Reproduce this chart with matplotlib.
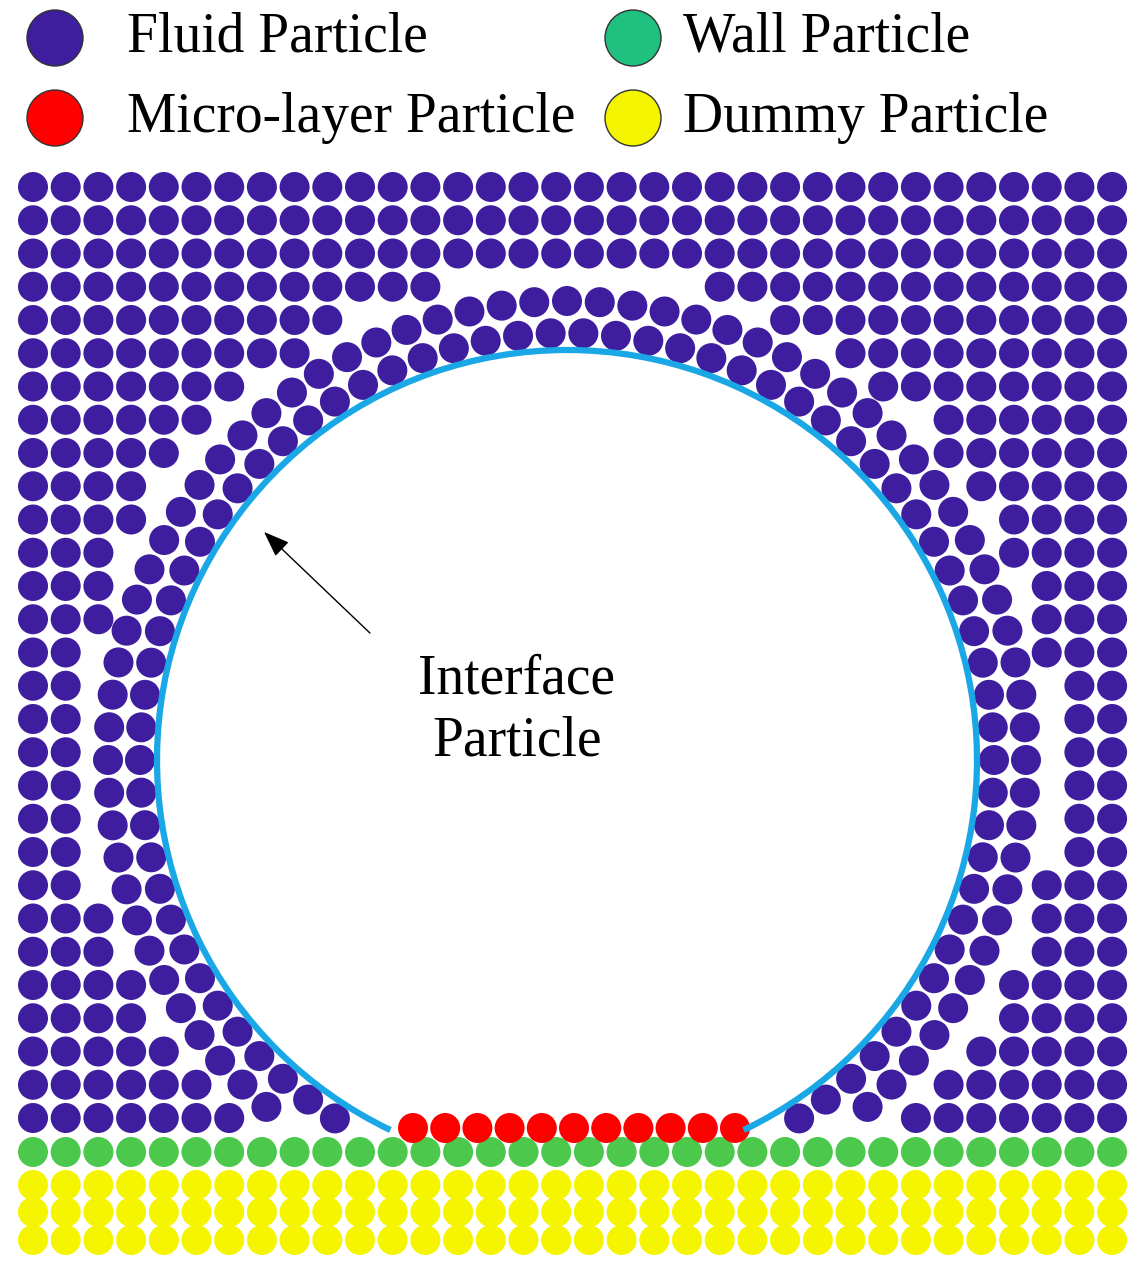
import numpy as np
import matplotlib
matplotlib.use("Agg")
import matplotlib.pyplot as plt
from matplotlib.patches import Circle, Arc

# layout of the particle lattice (pixel units of the original figure)
N_COLS = 34
X_FIRST, SPACING = 33, 32.7
FLUID_ROWS = 29
FLUID_TOP = 187
FLUID_BOTTOM = 1118
WALL_Y = 1152
DUMMY_YS = [1185, 1212, 1240]
MICRO_X0, MICRO_N = 413, 11
MICRO_Y = 1128

BUBBLE_CX, BUBBLE_CY, BUBBLE_R = 567, 760, 410
P_RAD = 15
RING_OFFSETS = [17, 49]   # concentric fluid layers hugging the interface

FLUID_C = "#3E1E9E"
WALL_C = "#4CC94C"
DUMMY_C = "#F5F500"
MICRO_C = "#FF0000"
IFACE_C = "#1AA7E6"

legend_labels = ["Fluid Particle", "Wall Particle", "Micro-layer Particle", "Dummy Particle"]
legend_colors = [FLUID_C, "#20C080", MICRO_C, DUMMY_C]
legend_xy = [(55, 38), (633, 38), (55, 118), (633, 118)]
legend_text_x = [127, 683, 127, 683]

fig = plt.figure(figsize=(11.48, 12.76), dpi=100)
ax = fig.add_axes([0, 0, 1, 1])
ax.set_xlim(0, 1148)
ax.set_ylim(1276, 0)
ax.set_aspect("equal")
ax.axis("off")

xs = X_FIRST + SPACING * np.arange(N_COLS)
fluid_ys = FLUID_TOP + (FLUID_BOTTOM - FLUID_TOP) / (FLUID_ROWS - 1) * np.arange(FLUID_ROWS)

def dot(x, y, c, r=P_RAD, ec="none"):
    ax.add_patch(Circle((x, y), r, facecolor=c, edgecolor=ec, lw=1))

for y in fluid_ys:
    for x in xs:
        d = np.hypot(x - BUBBLE_CX, y - BUBBLE_CY)
        if d > BUBBLE_R + RING_OFFSETS[-1] + 30:
            dot(x, y, FLUID_C)

for off in RING_OFFSETS:
    rr = BUBBLE_R + off
    n = int(2 * np.pi * rr / 32.5)
    for a in np.linspace(0, 2 * np.pi, n, endpoint=False):
        x = BUBBLE_CX + rr * np.cos(a)
        y = BUBBLE_CY + rr * np.sin(a)
        if y <= FLUID_BOTTOM + 2 and 20 < x < 1125:
            dot(x, y, FLUID_C)

for x in xs:
    dot(x, WALL_Y, WALL_C)
    for y in DUMMY_YS:
        dot(x, y, DUMMY_C)

for i in range(MICRO_N):
    dot(MICRO_X0 + 32.2 * i, MICRO_Y, MICRO_C)

# interface arc (cut at the wall)
theta_end = np.degrees(np.arcsin((1130 - BUBBLE_CY) / BUBBLE_R))
ax.add_patch(Arc((BUBBLE_CX, BUBBLE_CY), 2 * BUBBLE_R, 2 * BUBBLE_R,
                 theta1=180 - theta_end, theta2=theta_end, color=IFACE_C, lw=4.5))

ax.annotate("", xy=(262, 530), xytext=(372, 635),
            arrowprops=dict(arrowstyle="-|>,head_width=0.6,head_length=1.6",
                            color="black", lw=1))
ax.text(517, 710, "Interface\nParticle", ha="center", va="center",
        family="Liberation Serif", fontsize=40, linespacing=1.25)

for lab, c, (x, y), tx in zip(legend_labels, legend_colors, legend_xy, legend_text_x):
    dot(x, y, c, r=28, ec="#333333")
    ax.text(tx, y, lab, ha="left", va="center",
            family="Liberation Serif", fontsize=40)

fig.savefig("out.png", dpi=100)
